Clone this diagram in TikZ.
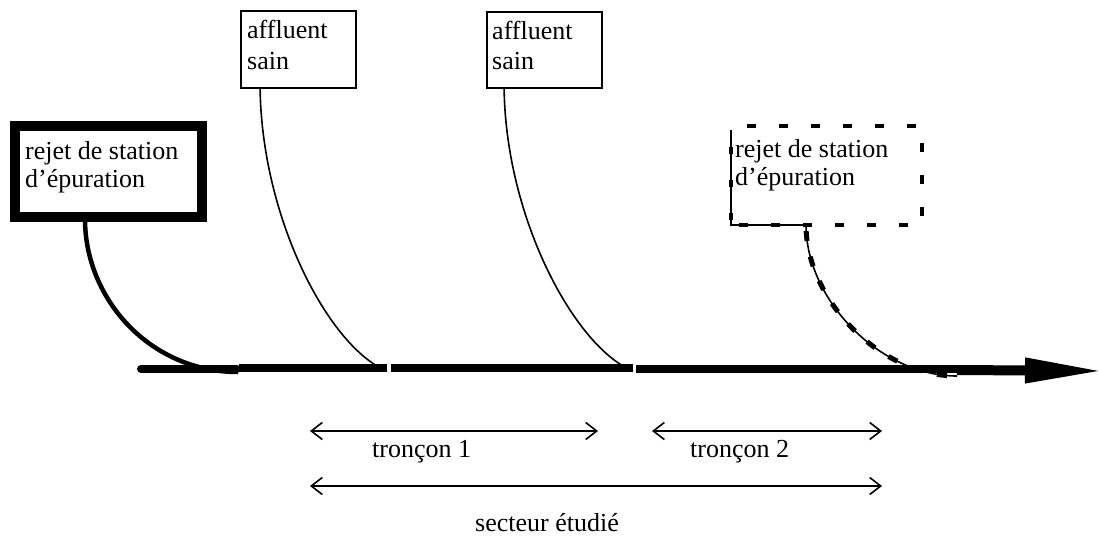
\documentclass[tikz,border=0pt]{standalone}
\usepackage{fontspec}
\setmainfont{Liberation Serif}
\usetikzlibrary{arrows.meta,calc}
\begin{document}
\begin{tikzpicture}[x=1pt,y=-1pt,
  lbl/.style={anchor=base west, inner sep=0pt, font=\fontsize{26}{28}\selectfont},
  thickbox/.style={draw, line width=10pt, inner sep=0pt},
  thinbox/.style={draw, line width=1.8pt, inner sep=0pt},
  ghostbox/.style={inner sep=0pt, outer sep=0pt},
  dashes/.style={line width=4pt, dash pattern=on 9pt off 23pt},
  river/.style={line width=8pt},
  trib/.style={line width=1.6pt},
  dim/.style={line width=1.6pt, {Straight Barb[length=11pt,width=17pt]}-{Straight Barb[length=11pt,width=17pt]}}
]
\useasboundingbox (0,0) rectangle (1099,535);

% boxes
\node[thickbox, minimum width=187pt, minimum height=91pt] (lbox) at (108.5,171.5) {};
\node[thinbox, minimum width=115pt, minimum height=77pt] (a1box) at (298.5,49.5) {};
\node[thinbox, minimum width=115pt, minimum height=76pt] (a2box) at (544.5,50) {};
\node[ghostbox, minimum width=191pt, minimum height=99pt] (dbox) at (826.5,175.5) {};
\draw[dashes, dash phase=16pt] (dbox.north west) -- (dbox.north east) -- (dbox.south east) -- (dbox.south west);

% box texts
\node[lbl] (lt1) at (25,159) {rejet de station};
\node[lbl] (lt2) at (25,187) {d’épuration};
\node[lbl] (a1t1) at (247,39) {affluent};
\node[lbl] (a1t2) at (247,69) {sain};
\node[lbl] (a2t1) at (492,40) {affluent};
\node[lbl] (a2t2) at (492,70) {sain};
\node[lbl] (dt1) at (735,157) {rejet de station};
\node[lbl] (dt2) at (735,185) {d’épuration};

% river coordinates
\coordinate (s0a) at (141,369);
\coordinate (s0b) at (237,369);
\coordinate (s1a) at (239,368);
\coordinate (s1b) at (387,368);
\coordinate (s2a) at (391,368);
\coordinate (s2b) at (633,368);
\coordinate (s3a) at (636,369);
\coordinate (s3b) at (957,369);
\coordinate (sh) at (957,370);
\coordinate (tip) at (1105,371);

% junctions
\coordinate (j0) at (238,372);
\coordinate (j1) at (387,371);
\coordinate (j2) at (633,371);
\coordinate (j3) at (957,376);

% tributary starts
\coordinate (ls) at ($(lbox.south west)+(75,-3)$);
\coordinate (a1s) at ($(a1box.south west)+(20,0)$);
\coordinate (a2s) at ($(a2box.south west)+(18,0)$);
\coordinate (ds) at ($(dbox.south west)+(75,0)$);

% river
\draw[river, line cap=round] (s0a) -- (s0b);
\draw[river] (s1a) -- (s1b);
\draw[river] (s2a) -- (s2b);
\draw[river] (s3a) -- (s3b);
\draw[line width=10pt, -{Triangle[length=80pt,width=23pt]}] (sh) -- (tip);

% tributaries
\draw[line width=4.5pt] (ls) .. controls +(0,80) and +(-88,0) .. (j0);
\draw[trib] (a1s) .. controls +(2,132) and +(-57,-23) .. (j1);
\draw[trib] (a2s) .. controls +(2,132) and +(-57,-23) .. (j2);
\draw[trib] (ds) -- (dbox.south west) -- ($(dbox.north west)+(0,4)$);
\draw[line width=4pt, dash pattern=on 7pt off 26pt, dash phase=-6pt] ($(dbox.north west)+(0,15)$) -- (dbox.south west);
\draw[trib] (ds) .. controls +(0,75) and +(-77,0) .. (j3);
\draw[line width=5pt, dash pattern=on 10pt off 16pt, dash phase=-6pt] (ds) .. controls +(0,75) and +(-77,0) .. (j3);

% dimension arrows
\coordinate (t1a) at (310,431);
\coordinate (t1b) at (598,431);
\coordinate (t2a) at (652,431);
\coordinate (t2b) at (882,431);
\coordinate (sa) at (310,486);
\coordinate (sb) at (882,486);
\draw[dim] (t1a) -- (t1b);
\draw[dim] (t2a) -- (t2b);
\draw[dim] (sa) -- (sb);
\node[lbl] (tl1) at (372,457) {tronçon 1};
\node[lbl] (tl2) at (690,457) {tronçon 2};
\node[lbl] (sl) at (475,531) {secteur étudié};
\end{tikzpicture}
\end{document}
